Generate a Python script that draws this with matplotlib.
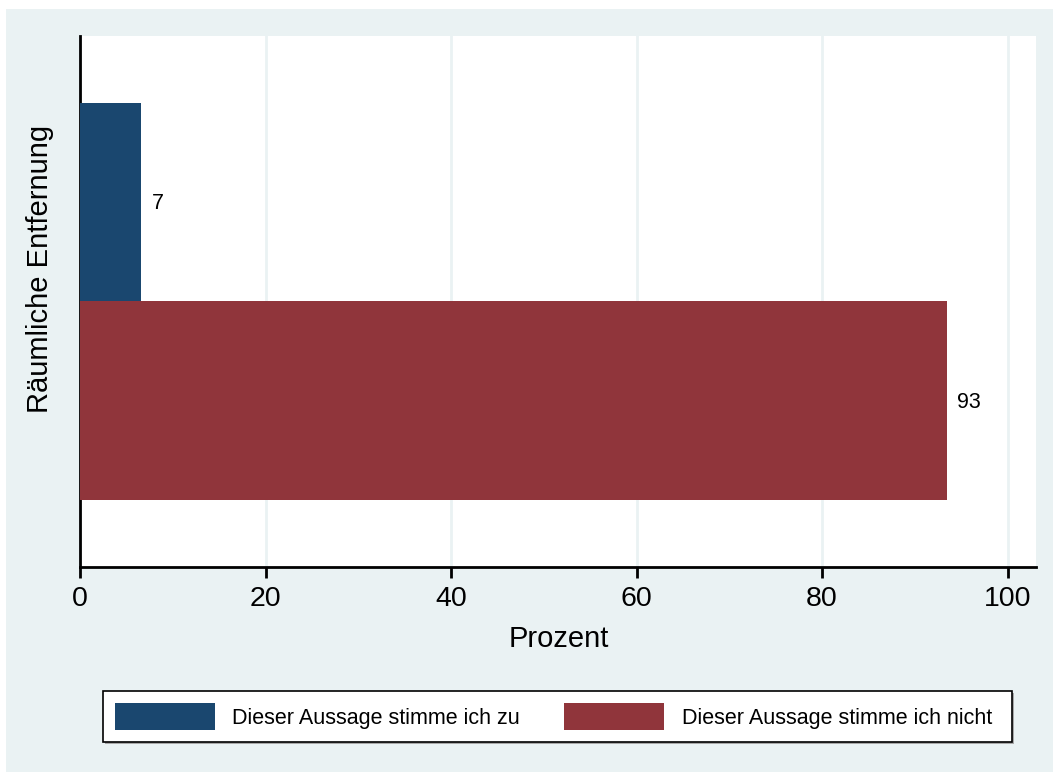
import matplotlib
matplotlib.use("Agg")
import matplotlib.pyplot as plt
from matplotlib.patches import Rectangle, Patch

plt.rcParams['font.family'] = ['Liberation Sans', 'DejaVu Sans']

categories = ["Dieser Aussage stimme ich zu", "Dieser Aussage stimme ich nicht"]
values = [6.6, 93.5]
value_labels = ["7", "93"]
colors = ["#1A476F", "#90353B"]
xticks = [0, 20, 40, 60, 80, 100]
ylabel = "Räumliche Entfernung"
xlabel = "Prozent"

W, H = 1053, 772
fig = plt.figure(figsize=(W / 100, H / 100), dpi=100, facecolor="white")
bg = "#EAF2F3"
fig.patches.append(Rectangle((6 / W, 0), 1 - 6 / W, 1 - 9 / H, transform=fig.transFigure,
                             facecolor=bg, edgecolor="none", zorder=-10))

ax = fig.add_axes([80 / W, (H - 566.5) / H, (1036 - 80) / W, (566.5 - 36) / H])
ax.set_facecolor("white")

for i, (v, c, lab) in enumerate(zip(values, colors, value_labels)):
    ax.barh(i, v, height=1.0, color=c, edgecolor="none", zorder=3)
    ax.text(v + 1.1, i + 0.01, lab, ha="left", va="center", fontsize=15.5, color="black", zorder=4)

ax.set_xlim(0, 103.07)
ax.set_ylim(1.836, -0.836)
ax.set_xticks(xticks)
ax.set_xticklabels([str(t) for t in xticks], fontsize=20.5)
ax.set_yticks([])
ax.grid(axis="x", color=bg, linewidth=2, zorder=0)
ax.set_axisbelow(True)
for s in ["top", "right"]:
    ax.spines[s].set_visible(False)
for s in ["left", "bottom"]:
    ax.spines[s].set_linewidth(2)
    ax.spines[s].set_color("black")
ax.tick_params(axis="x", direction="out", length=8, width=2, pad=6, colors="black")

fig.text(40 / W, 1 - 268.5 / H, ylabel, rotation=90, ha="center", va="center", fontsize=21)
fig.text(559 / W, 1 - 639 / H, xlabel, ha="center", va="center", fontsize=21)

# legend frame (with a faint shadow) and frameless legend inside it
fig.patches.append(Rectangle((105 / W, (H - 744) / H), (1012 - 103) / W, (742 - 691) / H,
                             transform=fig.transFigure, facecolor="#A8A8A8", edgecolor="none",
                             zorder=1))
fig.patches.append(Rectangle((103 / W, (H - 742) / H), (1012 - 103) / W, (742 - 691) / H,
                             transform=fig.transFigure, facecolor="white", edgecolor="black",
                             linewidth=1.2, zorder=2))
handles = [Patch(facecolor=c, edgecolor="none") for c in colors]
leg = fig.legend(handles, categories, loc="center left",
                 bbox_to_anchor=(115 / W, (H - 716.5) / H),
                 ncol=2, fontsize=15.5, frameon=False,
                 handlelength=4.65, handleheight=1.5, handletextpad=0.8,
                 borderpad=0, borderaxespad=0, columnspacing=2.05)
leg.set_zorder(5)

fig.savefig("out.png", dpi=100, facecolor=fig.get_facecolor())
